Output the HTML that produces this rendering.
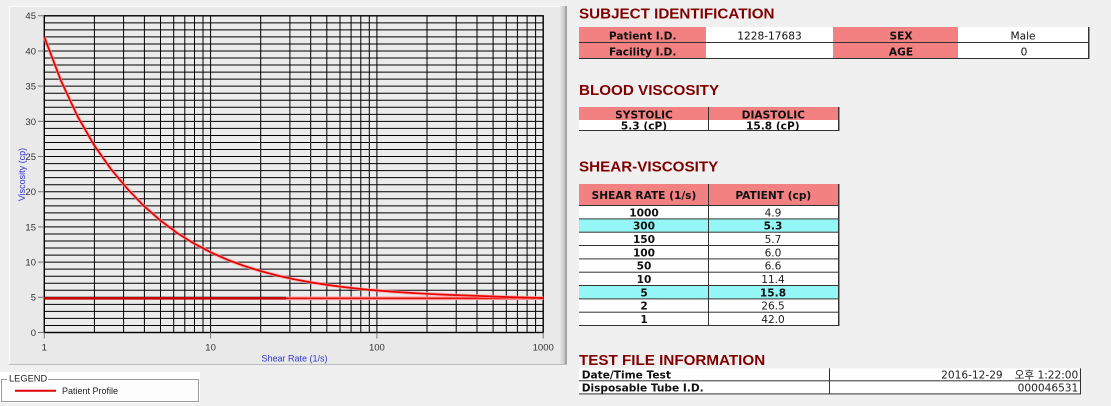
<!DOCTYPE html>
<html><head><meta charset="utf-8">
<style>
html,body{margin:0;padding:0;}
body{width:1111px;height:406px;background:#f0f0f0;overflow:hidden;}
svg{display:block;}
</style></head>
<body>
<svg width="1111" height="406" viewBox="0 0 1111 406" xmlns="http://www.w3.org/2000/svg">
<defs>
<linearGradient id="rg" x1="0" x2="1" y1="0" y2="0"><stop offset="0" stop-color="#e6e6e6"/><stop offset="1" stop-color="#c4c4c4"/></linearGradient>
</defs>
<!-- chart panel -->
<rect x="9" y="6" width="558" height="359" fill="#e9e9e9"/>
<line x1="9" y1="6.5" x2="567" y2="6.5" stroke="#fbfbfb" stroke-width="1"/>
<line x1="9.5" y1="6" x2="9.5" y2="365" stroke="#fbfbfb" stroke-width="1"/>
<rect x="560" y="6" width="5" height="359" fill="url(#rg)"/>
<rect x="565" y="6" width="2" height="359" fill="#a4a4a4"/>
<line x1="9" y1="364.5" x2="567" y2="364.5" stroke="#bdbdbd" stroke-width="1"/>
<rect x="44.3" y="15.8" width="498.9" height="316.7" fill="#ebebeb"/>

<!-- grid -->
<path fill="none" stroke="#000" stroke-width="1" d="
M94.4 15.8V332.5M123.6 15.8V332.5M144.4 15.8V332.5M160.5 15.8V332.5M173.7 15.8V332.5M184.8 15.8V332.5M194.5 15.8V332.5M203.0 15.8V332.5
M210.6 15.8V332.5M260.7 15.8V332.5M289.9 15.8V332.5M310.7 15.8V332.5M326.8 15.8V332.5M340.0 15.8V332.5M351.1 15.8V332.5M360.8 15.8V332.5M369.3 15.8V332.5
M376.9 15.8V332.5M427.0 15.8V332.5M456.2 15.8V332.5M477.0 15.8V332.5M493.1 15.8V332.5M506.3 15.8V332.5M517.4 15.8V332.5M527.1 15.8V332.5M535.6 15.8V332.5
M44.3 325.46H543.2M44.3 318.42H543.2M44.3 311.39H543.2M44.3 304.35H543.2M44.3 297.31H543.2
M44.3 290.27H543.2M44.3 283.24H543.2M44.3 276.20H543.2M44.3 269.16H543.2M44.3 262.12H543.2
M44.3 255.08H543.2M44.3 248.05H543.2M44.3 241.01H543.2M44.3 233.97H543.2M44.3 226.93H543.2
M44.3 219.90H543.2M44.3 212.86H543.2M44.3 205.82H543.2M44.3 198.78H543.2M44.3 191.74H543.2
M44.3 184.71H543.2M44.3 177.67H543.2M44.3 170.63H543.2M44.3 163.59H543.2M44.3 156.56H543.2
M44.3 149.52H543.2M44.3 142.48H543.2M44.3 135.44H543.2M44.3 128.40H543.2M44.3 121.37H543.2
M44.3 114.33H543.2M44.3 107.29H543.2M44.3 100.25H543.2M44.3 93.21H543.2M44.3 86.18H543.2
M44.3 79.14H543.2M44.3 72.10H543.2M44.3 65.06H543.2M44.3 58.03H543.2M44.3 50.99H543.2
M44.3 43.95H543.2M44.3 36.91H543.2M44.3 29.87H543.2M44.3 22.84H543.2"/>
<rect x="44.3" y="15.8" width="498.9" height="316.7" fill="none" stroke="#000" stroke-width="1.4"/>

<!-- ticks -->
<path fill="none" stroke="#777" stroke-width="1" d="M38 332.5H44M38 297.31H44M38 262.12H44M38 226.93H44M38 191.74H44M38 156.56H44M38 121.37H44M38 86.18H44M38 50.99H44M38 15.8H44
M44.3 332.5V338.5M210.6 332.5V338.5M376.9 332.5V338.5M543.2 332.5V338.5"/>
<g font-family="Liberation Sans, sans-serif" font-size="9.5" fill="#333" text-anchor="end">
<text x="36" y="335.9">0</text>
<text x="36" y="300.7">5</text>
<text x="36" y="265.5">10</text>
<text x="36" y="230.3">15</text>
<text x="36" y="195.1">20</text>
<text x="36" y="160">25</text>
<text x="36" y="124.8">30</text>
<text x="36" y="89.6">35</text>
<text x="36" y="54.4">40</text>
<text x="36" y="19.2">45</text>
</g>
<g font-family="Liberation Sans, sans-serif" font-size="9.5" fill="#333" text-anchor="middle">
<text x="44.3" y="350.5">1</text>
<text x="210.6" y="350.5">10</text>
<text x="376.9" y="350.5">100</text>
<text x="543.2" y="350.5">1000</text>
</g>
<text x="294.5" y="361.5" font-family="Liberation Sans, sans-serif" font-size="9" fill="#3434cc" text-anchor="middle">Shear Rate (1/s)</text>
<text transform="translate(25,174.5) rotate(-90)" font-family="Liberation Sans, sans-serif" font-size="9" fill="#3434cc" text-anchor="middle">Viscosity (cp)</text>

<!-- series -->
<line x1="44.3" y1="298.3" x2="286" y2="298.3" stroke="#c80000" stroke-width="2.6"/>
<line x1="286" y1="298.3" x2="543.2" y2="298.3" stroke="#ff9a9a" stroke-width="3.6"/>
<line x1="286" y1="298.3" x2="543.2" y2="298.3" stroke="#e81010" stroke-width="1.6"/>
<polyline fill="none" stroke="#ff9c9c" stroke-width="3.4" stroke-linejoin="round" opacity="0.7" points="44.3,36.9 60.9,80.55 77.6,116.44 94.2,145.3 110.8,168.87 127.5,188.93 144.1,206.17 160.7,220.74 177.3,233.06 194.0,243.54 210.6,252.27 227.2,259.66 243.9,265.85 260.5,271.06 277.1,275.49 293.8,279.15 310.4,282.25 327.0,284.85 343.6,287.07 360.3,288.94 376.9,290.48 393.5,291.79 410.2,292.88 426.8,293.79 443.4,294.59 460.1,295.25 476.7,295.8 493.3,296.5 509.9,297.1 526.6,297.6 543.2,298.0"/>
<polyline fill="none" stroke="#e60000" stroke-width="1.7" stroke-linejoin="round" points="44.3,36.9 60.9,80.55 77.6,116.44 94.2,145.3 110.8,168.87 127.5,188.93 144.1,206.17 160.7,220.74 177.3,233.06 194.0,243.54 210.6,252.27 227.2,259.66 243.9,265.85 260.5,271.06 277.1,275.49 293.8,279.15 310.4,282.25 327.0,284.85 343.6,287.07 360.3,288.94 376.9,290.48 393.5,291.79 410.2,292.88 426.8,293.79 443.4,294.59 460.1,295.25 476.7,295.8 493.3,296.5 509.9,297.1 526.6,297.6 543.2,298.0"/>

<!-- legend -->
<rect x="0" y="372" width="200" height="31" fill="#ffffff"/>
<rect x="1.5" y="379.5" width="197" height="22" fill="#fdfdfd" stroke="#9a9a9a" stroke-width="1"/>
<rect x="7" y="374" width="41" height="10" fill="#ffffff"/>
<text x="9" y="381.7" font-family="Liberation Sans, sans-serif" font-size="9.3" fill="#222">LEGEND</text>
<line x1="15" y1="390.7" x2="56" y2="390.7" stroke="#e00000" stroke-width="2"/>
<text x="62" y="393.8" font-family="Liberation Sans, sans-serif" font-size="9" fill="#222">Patient Profile</text>

<!-- headings -->
<g font-family="Liberation Sans, sans-serif" font-weight="bold" font-size="15.2" fill="#800000">
<text x="579" y="18.3">SUBJECT IDENTIFICATION</text>
<text x="579" y="95">BLOOD VISCOSITY</text>
<text x="579" y="171.7">SHEAR-VISCOSITY</text>
<text x="579" y="365">TEST FILE INFORMATION</text>
</g>

<!-- subject table -->
<rect x="579" y="27" width="127" height="32" fill="#f38181"/>
<rect x="706" y="27" width="127" height="32" fill="#ffffff"/>
<rect x="833" y="27" width="125" height="32" fill="#f38181"/>
<rect x="958" y="27" width="130" height="32" fill="#ffffff"/>
<rect x="579" y="42" width="509" height="1" fill="#333"/>
<rect x="579" y="58" width="511" height="1" fill="#333"/>
<rect x="1088" y="27" width="1" height="32" fill="#333"/>
<rect x="1089" y="27" width="1" height="32" fill="#999"/>
<g font-family="DejaVu Sans, sans-serif" font-size="10.6" fill="#111" text-anchor="middle">
<text x="642.7" y="39.4" font-weight="bold">Patient I.D.</text>
<text x="769.5" y="39.4">1228-17683</text>
<text x="901" y="39.4" font-weight="bold">SEX</text>
<text x="1023" y="39.4">Male</text>
<text x="642.7" y="55.4" font-weight="bold">Facility I.D.</text>
<text x="901" y="55.4" font-weight="bold">AGE</text>
<text x="1024" y="55.4">0</text>
</g>

<!-- blood viscosity table -->
<rect x="579" y="107" width="259" height="13" fill="#f38181"/>
<rect x="579" y="120" width="259" height="10" fill="#ffffff"/>
<rect x="579" y="130" width="260" height="1" fill="#333"/>
<rect x="708" y="107" width="1" height="24" fill="#333"/>
<rect x="838" y="107" width="1" height="24" fill="#333"/>
<rect x="839" y="107" width="1" height="24" fill="#999"/>
<g font-family="DejaVu Sans, sans-serif" font-size="10.6" fill="#111" text-anchor="middle" font-weight="bold">
<text x="644" y="118.3">SYSTOLIC</text>
<text x="773.3" y="118.3">DIASTOLIC</text>
<text x="644" y="129.4">5.3 (cP)</text>
<text x="772.8" y="129.4">15.8 (cP)</text>
</g>

<!-- shear-viscosity table -->
<rect x="579" y="184" width="259" height="21.5" fill="#f38181"/>
<rect x="579" y="205.5" width="259" height="120.5" fill="#ffffff"/>
<rect x="579" y="219" width="259" height="13" fill="#95f6f6"/>
<rect x="579" y="285.7" width="259" height="13" fill="#95f6f6"/>
<g fill="#333">
<rect x="579" y="205" width="259" height="1"/>
<rect x="579" y="218.4" width="259" height="1"/>
<rect x="579" y="231.7" width="259" height="1"/>
<rect x="579" y="245" width="259" height="1"/>
<rect x="579" y="258.4" width="259" height="1"/>
<rect x="579" y="271.7" width="259" height="1"/>
<rect x="579" y="285" width="259" height="1"/>
<rect x="579" y="298.4" width="259" height="1"/>
<rect x="579" y="311.7" width="259" height="1"/>
<rect x="579" y="325" width="260" height="1"/>
<rect x="708" y="184" width="1" height="142"/>
<rect x="838" y="184" width="1" height="142"/>
</g>
<rect x="839" y="184" width="1" height="142" fill="#999"/>
<g font-family="DejaVu Sans, sans-serif" font-size="10.6" fill="#111" text-anchor="middle">
<text x="644" y="198.9" font-weight="bold">SHEAR RATE (1/s)</text>
<text x="773.3" y="198.9" font-weight="bold">PATIENT (cp)</text>
<g font-weight="bold">
<text x="644" y="216.3">1000</text>
<text x="644" y="229.6">300</text>
<text x="644" y="243">150</text>
<text x="644" y="256.3">100</text>
<text x="644" y="269.6">50</text>
<text x="644" y="283">10</text>
<text x="644" y="296.3">5</text>
<text x="644" y="309.6">2</text>
<text x="644" y="323">1</text>
<text x="773" y="229.6">5.3</text>
<text x="773" y="296.3">15.8</text>
</g>
<g fill="#222">
<text x="773" y="216.3">4.9</text>
<text x="773" y="243">5.7</text>
<text x="773" y="256.3">6.0</text>
<text x="773" y="269.6">6.6</text>
<text x="773" y="283">11.4</text>
<text x="773" y="309.6">26.5</text>
<text x="773" y="323">42.0</text>
</g>
</g>

<!-- test file table -->
<rect x="579" y="368.3" width="501" height="26" fill="#ffffff"/>
<rect x="579" y="380.3" width="501" height="1" fill="#333"/>
<rect x="579" y="393.4" width="502" height="1" fill="#333"/>
<rect x="829" y="368.3" width="1" height="26" fill="#333"/>
<rect x="1080" y="368.3" width="1" height="26" fill="#333"/>
<g font-family="DejaVu Sans, sans-serif" font-size="10.6" fill="#111">
<text x="581.7" y="378.3" font-weight="bold">Date/Time Test</text>
<text x="581.7" y="391.6" font-weight="bold">Disposable Tube I.D.</text>
<text x="1002.7" y="378.3" text-anchor="end" fill="#222">2016-12-29</text>
<text x="1078.3" y="378.3" text-anchor="end" fill="#222" font-family="DejaVu Sans, Noto Sans CJK KR, sans-serif">오후 1:22:00</text>
<text x="1078.3" y="391.6" text-anchor="end" fill="#222">000046531</text>
</g>
</svg>
</body></html>
